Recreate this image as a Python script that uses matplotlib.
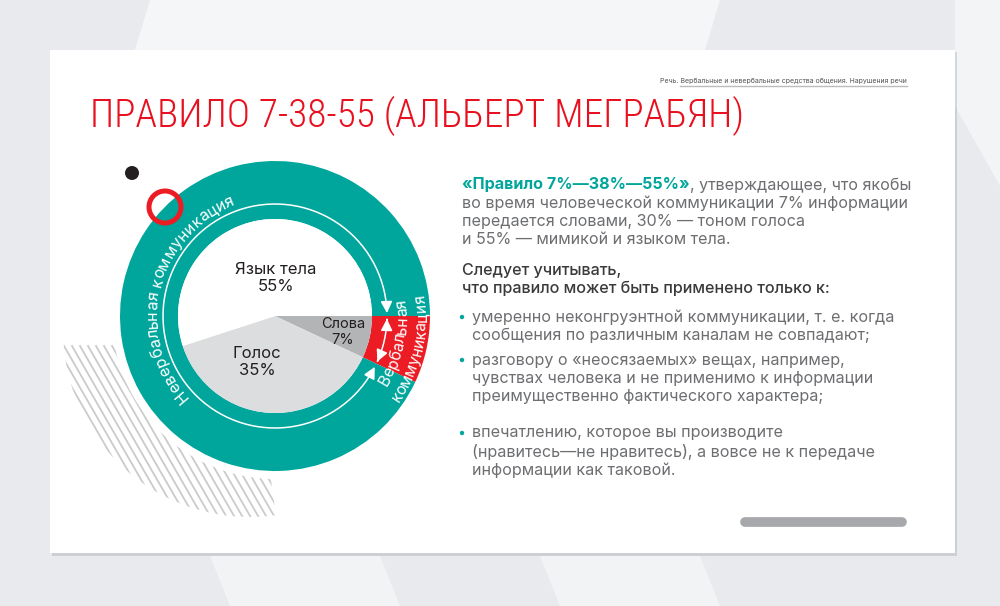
import numpy as np
import matplotlib.pyplot as plt
from matplotlib import font_manager
from matplotlib.patches import Rectangle, Circle, Wedge, FancyArrowPatch, ArrowStyle, Polygon
from matplotlib.path import Path
from matplotlib.font_manager import FontProperties

# --- data -------------------------------------------------------------
share_names = ['Слова', 'Голос', 'Язык тела']
shares = [7, 38, 55]
share_labels = ['7%', '35%', '55%']
channel_names = ['Вербальная\nкоммуникация', 'Невербальная коммуникация']
channel_shares = [shares[0], shares[1] + shares[2]]

title = 'ПРАВИЛО 7-38-55 (АЛЬБЕРТ МЕГРАБЯН)'
header = 'Речь. Вербальные и невербальные средства общения. Нарушения речи'
lead_bold = '«Правило 7%—38%—55%»'
lead_lines = [', утверждающее, что якобы',
              'во время человеческой коммуникации 7% информации',
              'передается словами, 30% — тоном голоса',
              'и 55% — мимикой и языком тела.']
note_lines = ['Следует учитывать,',
              'что правило может быть применено только к:']
bullets = [['умеренно неконгруэнтной коммуникации, т. е. когда',
            'сообщения по различным каналам не совпадают;'],
           ['разговору о «неосязаемых» вещах, например,',
            'чувствах человека и не применимо к информации',
            'преимущественно фактического характера;'],
           ['впечатлению, которое вы производите',
            '(нравитесь—не нравитесь), а вовсе не к передаче',
            'информации как таковой.']]
bullet_tops = [289, 246, 173]

TEAL = '#00a69c'
RED = '#ec1c24'
GRAY_TXT = '#6d6e71'
FONT = ['Inter', 'DejaVu Sans']
W, H = 1000, 606

installed = {f.name for f in font_manager.fontManager.ttflist}
if 'Roboto Condensed' in installed:
    title_font, title_size = ['Roboto Condensed', 'DejaVu Sans'], 28.4
else:
    title_font, title_size = ['Roboto', 'DejaVu Sans'], 25.3

fig = plt.figure(figsize=(10, 6.06), dpi=100)
fig.patch.set_facecolor('#e8eaee')
ax = fig.add_axes([0, 0, 1, 1])
rend = fig.canvas.get_renderer()


def text_w(s, size, weight='normal'):
    prop = FontProperties(family=FONT, size=size, weight=weight)
    return rend.get_text_width_height_descent(s, prop, ismath=False)[0]


# background decoration
for poly, a in [([[150, 606], [720, 606], [705, 556], [135, 556]], 0.6),
                ([[230, 0], [400, 0], [380, 50], [210, 50]], 0.45),
                ([[560, 0], [720, 0], [700, 50], [540, 50]], 0.45),
                ([[955, 606], [1000, 606], [1000, 420], [955, 500]], 0.5)]:
    ax.add_patch(Polygon(poly, color='white', alpha=a, lw=0, zorder=0.1))

# card
ax.add_patch(Rectangle((52, 50), 905, 504, color='#9a9ea6', alpha=0.35, lw=0, zorder=0.2))
ax.add_patch(Rectangle((50, 53), 905, 503, color='white', lw=0, zorder=0.3))

# header
ax.text(907, 523, header, ha='right', va='baseline', fontsize=5, color='#555555', family=FONT)
ax.plot([680, 907], [520, 520], color='#bcbcbc', lw=1)

# title
ax.text(90, 479, title, ha='left', va='baseline', fontsize=title_size, color='#e8101e',
        family=title_font, weight='light')

# decorative stripes (lower left, outside the ring)
cx, cy = 275, 290
band = Wedge((250, 276), 187, 169, 278, transform=ax.transData)
for k in range(-60, 60):
    x0 = 40 + k * 8
    ln, = ax.plot([x0, x0 + 150], [260, 0], color='#cbcbcb', lw=1.3, zorder=0.4)
    ln.set_clip_path(band)
ax.add_patch(Circle((cx, cy), 163, color='white', lw=0, zorder=0.5))

# outer ring: verbal vs nonverbal
ax.pie(channel_shares, radius=155, center=(cx, cy), startangle=0, counterclock=False,
       colors=[RED, TEAL], wedgeprops=dict(width=58, linewidth=0))
# inner pie
ax.pie(shares, radius=97, center=(cx, cy), startangle=0, counterclock=False,
       colors=['#b3b4b6', '#dcdddf', 'white'], wedgeprops=dict(linewidth=0))

# thin white arcs with arrows
r_arc = 112
style = ArrowStyle('<|-|>', head_length=0.7, head_width=0.35)
for a0, a1 in [(1.5, 333), (-24, -1.5)]:
    th = np.radians(np.linspace(a0, a1, 200))
    verts = np.column_stack([cx + r_arc * np.cos(th), cy + r_arc * np.sin(th)])
    ax.add_patch(FancyArrowPatch(path=Path(verts), arrowstyle=style, mutation_scale=10,
                                 color='white', lw=1.1, zorder=3))


def arc_text(s, radius, mid, clockwise, size, color='white'):
    prop = FontProperties(family=FONT, size=size)
    base = text_w('xx', size)
    widths = [text_w('x' + ch + 'x', size) - base for ch in s]
    span = sum(widths) / radius
    sign = -1 if clockwise else 1
    a = np.radians(mid) - sign * span / 2
    for ch, w in zip(s, widths):
        th = a + sign * (w / 2) / radius
        rot = np.degrees(th) - 90 if clockwise else np.degrees(th) + 90
        ax.text(cx + radius * np.cos(th), cy + radius * np.sin(th), ch, fontproperties=prop,
                color=color, rotation=rot, rotation_mode='anchor', ha='center', va='baseline')
        a += sign * w / radius


arc_text(channel_names[1], 118, 166.5, True, 11.5)
verbal = channel_names[0].split('\n')
arc_text(verbal[0], 132, -12.5, False, 11.3)
arc_text(verbal[1], 151, -13.5, False, 11.3)

# pie labels
label_pos = [(343, 274, 10.5), (257, 244, 12), (276, 328, 12)]
for name, lab, (x, y, fs) in zip(share_names, share_labels, label_pos):
    ax.text(x, y, name + '\n' + lab, ha='center', va='center', fontsize=fs,
            color='#231f20', family=FONT, linespacing=1.2)

# decorative dots
ax.add_patch(Circle((132, 433), 7, color='#231f20', lw=0, zorder=3))
ax.add_patch(Circle((165, 399), 16, fill=False, ec=RED, lw=3.6, zorder=3))

# right text block
fs = 11.6
ax.text(462, 421, lead_bold, ha='left', va='center', fontsize=fs, color=TEAL,
        weight='bold', family=FONT)
xoff = text_w(lead_bold, fs, 'bold')
ax.text(462 + xoff, 421, lead_lines[0], ha='left', va='center', fontsize=fs,
        color=GRAY_TXT, family=FONT)
for i, line in enumerate(lead_lines[1:]):
    ax.text(462, 403 - 18.5 * i, line, ha='left', va='center', fontsize=fs,
            color=GRAY_TXT, family=FONT)
for i, line in enumerate(note_lines):
    ax.text(462, 336 - 18 * i, line, ha='left', va='center', fontsize=fs,
            color='#3a3a3a', family=FONT, weight='medium')

for item, y in zip(bullets, bullet_tops):
    ax.add_patch(Circle((462, y), 2.2, color=TEAL, lw=0))
    for i, line in enumerate(item):
        ax.text(472, y - 18.5 * i, line, ha='left', va='center', fontsize=fs,
                color=GRAY_TXT, family=FONT)

# bottom bar
ax.plot([745, 902], [84, 84], color='#a7a8ab', lw=7, solid_capstyle='round')

ax.set_xlim(0, W)
ax.set_ylim(0, H)
ax.set_aspect('equal')
ax.axis('off')

fig.savefig('out.png', dpi=100, facecolor=fig.get_facecolor())
